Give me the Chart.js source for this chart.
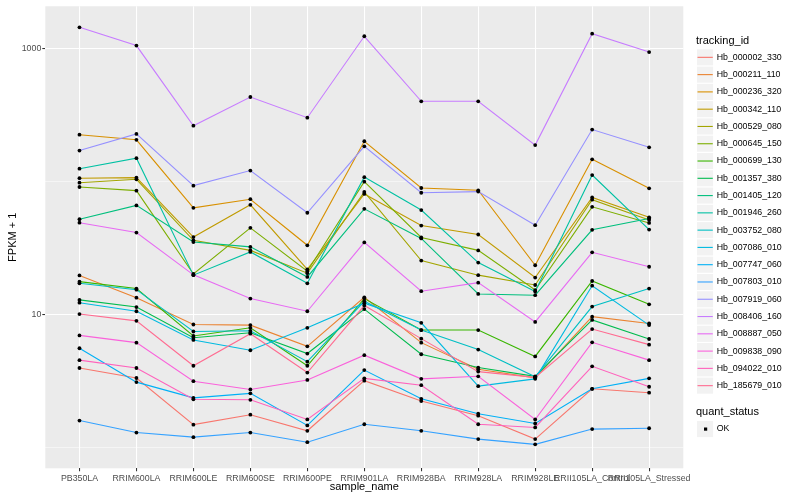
<!DOCTYPE html>
<html>
<head>
<meta charset="utf-8">
<script src="https://cdn.jsdelivr.net/npm/chart.js@4.4.1/dist/chart.umd.min.js"></script>
<style>
  html, body { margin: 0; padding: 0; background: #ffffff; }
  #wrap { width: 800px; height: 500px; }
</style>
</head>
<body>
<div id="wrap"><canvas id="fpkmChart" width="800" height="500"></canvas></div>
<script>
const sampleNames = ['PB350LA', 'RRIM600LA', 'RRIM600LE', 'RRIM600SE', 'RRIM600PE', 'RRIM901LA',
    'RRIM928BA', 'RRIM928LA', 'RRIM928LE', 'RRII105LA_Control', 'RRII105LA_Stressed'];

const trackingIds = ['Hb_000002_330', 'Hb_000211_110', 'Hb_000236_320', 'Hb_000342_110', 'Hb_000529_080',
    'Hb_000645_150', 'Hb_000699_130', 'Hb_001357_380', 'Hb_001405_120', 'Hb_001946_260',
    'Hb_003752_080', 'Hb_007086_010', 'Hb_007747_060', 'Hb_007803_010', 'Hb_007919_060',
    'Hb_008406_160', 'Hb_008887_050', 'Hb_009838_090', 'Hb_094022_010', 'Hb_185679_010'];

const yTicks = [1, 10, 100, 1000];
const yLabelled = [10, 1000];

// FPKM + 1, one value per sample
const hb_000002_330 = [3.97, 3.34, 1.49, 1.77, 1.34, 3.19, 2.24, 1.74, 1.16, 2.77, 2.59];
const hb_000211_110 = [19.7, 13.4, 8.43, 8.34, 5.78, 13.5, 6.16, 3.88, 3.35, 9.66, 8.58];
const hb_000236_320 = [225, 206, 63.5, 73.7, 33.2, 201, 89.5, 86.0, 23.5, 147, 89.0];
const hb_000342_110 = [106, 107, 38.3, 66.9, 21.9, 80.7, 46.7, 40.0, 19.0, 75.9, 53.9];
const hb_000529_080 = [98.1, 104, 36.2, 30.4, 20.5, 83.5, 25.5, 19.8, 16.7, 73.1, 51.5];
const hb_000645_150 = [91.0, 85.5, 20.2, 44.9, 21.2, 99.8, 38.0, 30.4, 15.3, 64.6, 48.9];
const hb_000699_130 = [17.7, 15.7, 6.91, 7.96, 4.13, 13.2, 7.66, 7.66, 4.85, 17.9, 11.95];
const hb_001357_380 = [12.9, 11.4, 6.71, 7.31, 5.10, 11.0, 5.04, 4.00, 3.44, 9.13, 6.56];
const hb_001405_120 = [52.1, 66.2, 35.1, 32.3, 19.2, 62.4, 37.4, 14.3, 14.0, 43.4, 52.8];
const hb_001946_260 = [125, 150, 19.8, 29.6, 17.2, 108, 61.1, 24.6, 14.9, 112, 43.6];
const hb_003752_080 = [17.2, 15.4, 7.47, 7.56, 4.43, 12.6, 7.66, 5.46, 3.41, 11.5, 15.7];
const hb_007086_010 = [12.3, 10.6, 6.45, 5.40, 7.96, 12.2, 8.68, 2.90, 3.29, 16.5, 8.34];
const hb_007747_060 = [5.59, 3.11, 2.37, 2.56, 1.47, 3.83, 2.33, 1.80, 1.52, 2.77, 3.32];
const hb_007803_010 = [1.60, 1.30, 1.20, 1.30, 1.10, 1.50, 1.34, 1.16, 1.06, 1.38, 1.40];
const hb_007919_060 = [171, 228, 93.2, 121, 58.3, 184, 82.4, 84.1, 47.0, 246, 181];
const hb_008406_160 = [1443, 1052, 263, 432, 302, 1236, 401, 401, 188, 1293, 940];
const hb_008887_050 = [49.1, 41.4, 19.9, 13.2, 10.6, 34.9, 15.0, 17.4, 8.82, 29.4, 22.9];
const hb_009838_090 = [6.98, 6.16, 3.16, 2.74, 3.23, 4.96, 3.29, 3.44, 1.63, 6.19, 4.55];
const hb_094022_010 = [4.55, 3.97, 2.31, 2.29, 1.63, 3.32, 2.95, 1.50, 1.42, 4.09, 2.87];
const hb_185679_010 = [10.1, 8.98, 4.13, 7.19, 3.67, 11.7, 6.60, 3.73, 3.38, 7.79, 5.95];

const seriesValues = [hb_000002_330, hb_000211_110, hb_000236_320, hb_000342_110, hb_000529_080,
    hb_000645_150, hb_000699_130, hb_001357_380, hb_001405_120, hb_001946_260,
    hb_003752_080, hb_007086_010, hb_007747_060, hb_007803_010, hb_007919_060,
    hb_008406_160, hb_008887_050, hb_009838_090, hb_094022_010, hb_185679_010];

// ggplot hue palette, 20 levels
const huePalette = ['#F8766D', '#EA8331', '#D89000', '#C09B00', '#A3A500', '#7CAE00', '#39B600',
    '#00BB4E', '#00BF7D', '#00C1A3', '#00BFC4', '#00BAE0', '#00B0F6', '#35A2FF', '#9590FF',
    '#C77CFF', '#E76BF3', '#FA62DB', '#FF62BC', '#FF6C91'];

const fontFamily = '"Liberation Sans", Arial, Helvetica, sans-serif';

const panelBackground = {
    id: 'panelBackground',
    beforeDraw(chart) {
        const { ctx, chartArea: a } = chart;
        ctx.save();
        ctx.fillStyle = '#ffffff';
        ctx.fillRect(0, 0, chart.width, chart.height);
        ctx.fillStyle = '#EBEBEB';
        ctx.fillRect(a.left, a.top, a.right - a.left, a.bottom - a.top);
        ctx.restore();
    }
};

// points sit on top of every line, like a separate geom_point layer
const samplePoints = {
    id: 'samplePoints',
    afterDatasetsDraw(chart) {
        const ctx = chart.ctx;
        ctx.save();
        ctx.fillStyle = '#000000';
        chart.data.datasets.forEach((ds, i) => {
            chart.getDatasetMeta(i).data.forEach(pt => {
                ctx.beginPath();
                ctx.arc(pt.x, pt.y, 1.9, 0, Math.PI * 2);
                ctx.fill();
            });
        });
        ctx.restore();
    }
};

const legendPanel = {
    id: 'legendPanel',
    afterDraw(chart) {
        const ctx = chart.ctx;
        const keySize = 17.28;
        const keyLeft = 697;
        const textLeft = 716.7;
        ctx.save();
        ctx.textAlign = 'left';
        ctx.textBaseline = 'middle';

        ctx.fillStyle = '#000000';
        ctx.font = '11px ' + fontFamily;
        ctx.fillText('tracking_id', 696, 40.5);

        ctx.font = '8.8px ' + fontFamily;
        chart.data.datasets.forEach((ds, i) => {
            const top = 48.7 + i * keySize;
            const mid = top + keySize / 2;
            ctx.fillStyle = '#F2F2F2';
            ctx.fillRect(keyLeft, top + 0.6, keySize - 1.2, keySize - 1.2);
            ctx.strokeStyle = ds.borderColor;
            ctx.lineWidth = 1.1;
            ctx.beginPath();
            ctx.moveTo(keyLeft + 0.5, mid);
            ctx.lineTo(keyLeft + keySize - 1.5, mid);
            ctx.stroke();
            ctx.fillStyle = '#000000';
            ctx.fillText(ds.label, textLeft, mid);
        });

        ctx.font = '11px ' + fontFamily;
        ctx.fillText('quant_status', 696, 412);
        const okTop = 420.4;
        ctx.fillStyle = '#F2F2F2';
        ctx.fillRect(keyLeft, okTop + 0.6, keySize - 1.2, keySize - 1.2);
        ctx.fillStyle = '#000000';
        ctx.fillRect(keyLeft + 7, okTop + 7.1, 3.2, 3.2);
        ctx.font = '8.8px ' + fontFamily;
        ctx.fillText('OK', textLeft, okTop + keySize / 2);
        ctx.restore();
    }
};

const datasets = trackingIds.map((id, i) => ({
    label: id,
    data: seriesValues[i].map((v, j) => ({ x: j, y: v })),
    borderColor: huePalette[i],
    backgroundColor: huePalette[i],
    borderWidth: 1.1,
    pointRadius: 0,
    tension: 0,
    fill: false,
    order: trackingIds.length - i
}));

new Chart(document.getElementById('fpkmChart'), {
    type: 'line',
    data: { datasets: datasets },
    plugins: [panelBackground, samplePoints, legendPanel],
    options: {
        responsive: false,
        animation: false,
        devicePixelRatio: 1,
        layout: { padding: { left: 0, right: 116.7, top: 5, bottom: 0 } },
        plugins: {
            legend: { display: false },
            tooltip: { enabled: false }
        },
        scales: {
            x: {
                type: 'linear',
                min: -0.6,
                max: 10.6,
                afterBuildTicks: scale => {
                    scale.ticks = sampleNames.map((n, i) => ({ value: i }));
                },
                afterFit: scale => { scale.height = 31.7; },
                border: { display: false },
                grid: {
                    color: '#ffffff',
                    lineWidth: 1.07,
                    tickColor: '#333333',
                    tickLength: 3,
                    tickWidth: 1.07
                },
                ticks: {
                    autoSkip: false,
                    maxRotation: 0,
                    minRotation: 0,
                    padding: 2,
                    color: '#4D4D4D',
                    font: { family: fontFamily, size: 8.8 },
                    callback: value => sampleNames[value]
                },
                title: {
                    display: true,
                    text: 'sample_name',
                    color: '#000000',
                    font: { family: fontFamily, size: 11 },
                    padding: { top: 0, bottom: 6 }
                }
            },
            y: {
                type: 'logarithmic',
                min: 0.746,
                max: 2077,
                afterBuildTicks: scale => {
                    scale.ticks = yTicks.map(v => ({ value: v }));
                },
                afterFit: scale => { scale.width = 45.3; },
                border: { display: false },
                grid: {
                    color: '#ffffff',
                    lineWidth: c => yLabelled.includes(c.tick.value) ? 1.07 : 0.53,
                    tickColor: c => yLabelled.includes(c.tick.value) ? '#333333' : 'rgba(0,0,0,0)',
                    tickLength: 3,
                    tickWidth: 1.07
                },
                ticks: {
                    autoSkip: false,
                    padding: 1,
                    color: '#4D4D4D',
                    font: { family: fontFamily, size: 8.8 },
                    callback: value => yLabelled.includes(value) ? String(value) : ''
                },
                title: {
                    display: true,
                    text: 'FPKM + 1',
                    color: '#000000',
                    font: { family: fontFamily, size: 11 },
                    padding: { top: 6, bottom: 0 }
                }
            }
        }
    }
});
</script>
</body>
</html>
